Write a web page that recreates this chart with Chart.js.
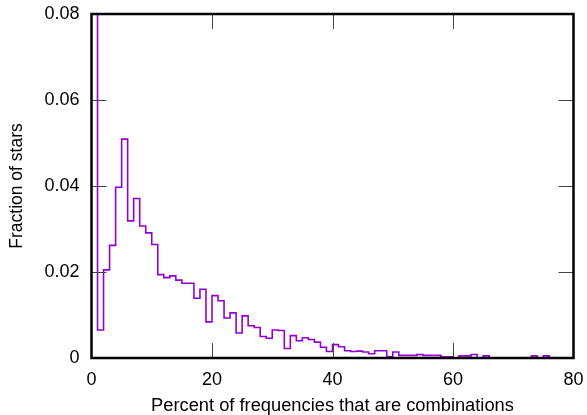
<!DOCTYPE html>
<html>
<head>
<meta charset="utf-8">
<script src="https://cdn.jsdelivr.net/npm/chart.js@4.4.1/dist/chart.umd.min.js"></script>
<style>
  html, body { margin: 0; padding: 0; background: #fff; }
</style>
</head>
<body>
<canvas id="histChart" width="587" height="415"></canvas>
<script>
// bin i covers [i, i+1) percent; first bin runs off the top of the plot
const binWidth = 1;
const fractions = [
  0.1000, 0.0065, 0.0205, 0.0262, 0.0397, 0.0509, 0.0319, 0.0371, 0.0307, 0.0291,
  0.0264, 0.0194, 0.0187, 0.0191, 0.0181, 0.0174, 0.0174, 0.0139, 0.0160, 0.0084,
  0.0145, 0.0133, 0.0093, 0.0105, 0.0058, 0.0098, 0.0075, 0.0071, 0.0050, 0.0046,
  0.0065, 0.0064, 0.0022, 0.0052, 0.0040, 0.0047, 0.0043, 0.0037, 0.0025, 0.0015,
  0.0031, 0.0026, 0.0017, 0.0015, 0.0016, 0.0014, 0.0010, 0.0017, 0.0017, 0.0003,
  0.0014, 0.0006, 0.0006, 0.0006, 0.0008, 0.0006, 0.0006, 0.0006, 0.0003, 0.0003,
  0.0000, 0.0005, 0.0005, 0.0008, 0.0000, 0.0005, 0.0000, 0.0000, 0.0000, 0.0000,
  0.0000, 0.0000, 0.0000, 0.0005, 0.0000, 0.0005, 0.0000, 0.0000, 0.0000, 0.0000
];
const xTicks = [0, 20, 40, 60, 80];
const yTicks = [0, 0.02, 0.04, 0.06, 0.08];

const xTitle = 'Percent of frequencies that are combinations';
const yTitle = 'Fraction of stars';

// step points: value holds from bin start until the next point
const points = fractions.map((v, i) => ({ x: i * binWidth, y: v }));
points.push({ x: fractions.length * binWidth, y: fractions[fractions.length - 1] });

const FONT = "'Liberation Sans', Arial, Helvetica, sans-serif";

// gnuplot-ish frame: thick border and inward ticks on all four sides
const framePlugin = {
  id: 'frame',
  afterDatasetsDraw(chart) {
    const { ctx, chartArea: a, scales } = chart;
    const tick = 15;
    ctx.save();
    ctx.strokeStyle = '#444';
    ctx.lineWidth = 1;
    ctx.beginPath();
    xTicks.slice(1, -1).forEach(v => {
      const px = Math.round(scales.x.getPixelForValue(v)) + 0.5;
      ctx.moveTo(px, a.bottom); ctx.lineTo(px, a.bottom - tick);
      ctx.moveTo(px, a.top); ctx.lineTo(px, a.top + tick);
    });
    yTicks.slice(1, -1).forEach(v => {
      const py = Math.round(scales.y.getPixelForValue(v)) + 0.5;
      ctx.moveTo(a.left, py); ctx.lineTo(a.left + tick, py);
      ctx.moveTo(a.right, py); ctx.lineTo(a.right - tick, py);
    });
    ctx.stroke();
    ctx.strokeStyle = '#000';
    ctx.lineWidth = 2.5;
    ctx.strokeRect(a.left, a.top, a.right - a.left, a.bottom - a.top);
    ctx.restore();
  }
};

new Chart(document.getElementById('histChart'), {
  type: 'line',
  data: {
    datasets: [{
      data: points,
      stepped: 'before',
      borderColor: '#9400d3',
      borderWidth: 1.6,
      pointRadius: 0,
      fill: false
    }]
  },
  options: {
    responsive: false,
    animation: false,
    layout: { padding: { top: 14, right: 13.5, left: 0, bottom: 0 } },
    plugins: { legend: { display: false }, tooltip: { enabled: false } },
    scales: {
      x: {
        type: 'linear',
        min: 0,
        max: 80,
        afterBuildTicks: s => { s.ticks = xTicks.map(v => ({ value: v })); },
        afterFit: s => { s.height = 57; s.paddingLeft = 0; s.paddingRight = 0; },
        grid: { display: false, drawTicks: false },
        border: { display: false },
        ticks: { color: '#000', padding: 11, font: { family: FONT, size: 18 } },
        title: {
          display: true,
          text: xTitle,
          color: '#000',
          padding: { top: 0, bottom: -2 },
          font: { family: FONT, size: 18.3 }
        }
      },
      y: {
        min: 0,
        max: 0.08,
        afterBuildTicks: s => { s.ticks = yTicks.map(v => ({ value: v })); },
        afterFit: s => { s.width = 91.5; s.paddingTop = 0; s.paddingBottom = 0; },
        grid: { display: false, drawTicks: false },
        border: { display: false },
        ticks: { color: '#000', padding: 12, font: { family: FONT, size: 18 } },
        title: {
          display: true,
          text: yTitle,
          color: '#000',
          padding: { top: 7, bottom: 7 },
          font: { family: FONT, size: 17.5 }
        }
      }
    }
  },
  plugins: [framePlugin]
});
</script>
</body>
</html>
